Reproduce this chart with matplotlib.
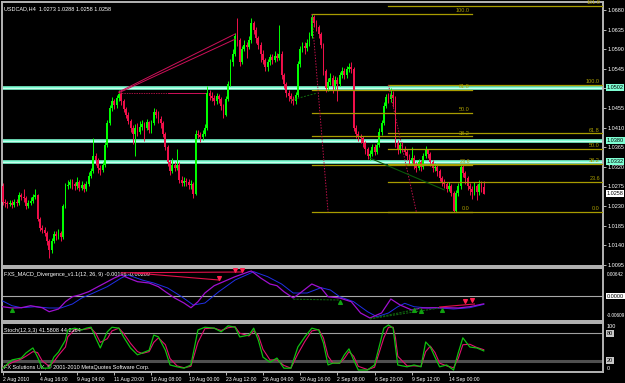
import matplotlib.pyplot as plt
import numpy as np
from matplotlib.transforms import blended_transform_factory

plt.rcParams['font.family'] = ['Liberation Sans', 'DejaVu Sans']

# USDCAD H4 candles, bar 0 = 2 Aug 2010 00:00
first_open = 1.0275
closes = [
    1.0240, 1.0236, 1.0235, 1.0238, 1.0233, 1.0240, 1.0236, 1.0255, 1.0250, 1.0248,
    1.0230, 1.0238, 1.0242, 1.0250, 1.0255, 1.0200, 1.0180, 1.0175, 1.0168, 1.0150,
    1.0130, 1.0150, 1.0165, 1.0160, 1.0167, 1.0158, 1.0230, 1.0275, 1.0278, 1.0285,
    1.0280, 1.0275, 1.0285, 1.0272, 1.0278, 1.0268, 1.0280, 1.0300, 1.0310, 1.0345,
    1.0335, 1.0318, 1.0312, 1.0325, 1.0370, 1.0420, 1.0455, 1.0470, 1.0462, 1.0478,
    1.0488, 1.0470, 1.0452, 1.0440, 1.0425, 1.0410, 1.0395, 1.0408, 1.0400, 1.0412,
    1.0418, 1.0410, 1.0422, 1.0405, 1.0420, 1.0445, 1.0440, 1.0430, 1.0420, 1.0395,
    1.0365, 1.0330, 1.0310, 1.0325, 1.0318, 1.0325, 1.0290, 1.0282, 1.0288, 1.0285,
    1.0278, 1.0280, 1.0258, 1.0395, 1.0392, 1.0388, 1.0395, 1.0410, 1.0490, 1.0482,
    1.0478, 1.0470, 1.0482, 1.0475, 1.0460, 1.0440, 1.0475, 1.0510, 1.0560, 1.0580,
    1.0620, 1.0610, 1.0560, 1.0590, 1.0600, 1.0595, 1.0610, 1.0650, 1.0635, 1.0615,
    1.0600, 1.0580, 1.0565, 1.0550, 1.0560, 1.0572, 1.0565, 1.0575, 1.0570, 1.0580,
    1.0530, 1.0510, 1.0490, 1.0482, 1.0475, 1.0470, 1.0485, 1.0555, 1.0590, 1.0598,
    1.0592, 1.0605, 1.0620, 1.0665, 1.0650, 1.0640, 1.0625, 1.0600, 1.0540, 1.0500,
    1.0515, 1.0525, 1.0505, 1.0520, 1.0510, 1.0530, 1.0540, 1.0530, 1.0545, 1.0550,
    1.0545, 1.0410, 1.0395, 1.0390, 1.0385, 1.0375, 1.0360, 1.0345, 1.0350, 1.0365,
    1.0355, 1.0370, 1.0400, 1.0420, 1.0460, 1.0480, 1.0475, 1.0485, 1.0478, 1.0375,
    1.0360, 1.0370, 1.0362, 1.0355, 1.0345, 1.0335, 1.0340, 1.0325, 1.0318, 1.0330,
    1.0320, 1.0345, 1.0358, 1.0350, 1.0330, 1.0318, 1.0320, 1.0310, 1.0295, 1.0285,
    1.0280, 1.0270, 1.0275, 1.0260, 1.0218, 1.0260, 1.0275, 1.0320, 1.0305, 1.0295,
    1.0275, 1.0268, 1.0262, 1.0275, 1.0262, 1.0280, 1.0273, 1.0258,
]
highs = [
    1.0282, 1.0246, 1.0242, 1.0244, 1.0243, 1.0247, 1.0246, 1.0262, 1.0260, 1.0270,
    1.0252, 1.0244, 1.0250, 1.0258, 1.0268, 1.0258, 1.0205, 1.0186, 1.0182, 1.0172,
    1.0155, 1.0156, 1.0172, 1.0172, 1.0178, 1.0172, 1.0235, 1.0282, 1.0290, 1.0293,
    1.0292, 1.0286, 1.0296, 1.0290, 1.0288, 1.0283, 1.0287, 1.0308, 1.0318, 1.0386,
    1.0352, 1.0340, 1.0325, 1.0332, 1.0378, 1.0428, 1.0462, 1.0480, 1.0476, 1.0486,
    1.0497, 1.0492, 1.0475, 1.0458, 1.0445, 1.0430, 1.0415, 1.0418, 1.0420, 1.0425,
    1.0428, 1.0424, 1.0430, 1.0426, 1.0428, 1.0455, 1.0452, 1.0448, 1.0436, 1.0425,
    1.0400, 1.0370, 1.0336, 1.0340, 1.0332, 1.0360, 1.0330, 1.0298, 1.0296, 1.0295,
    1.0292, 1.0290, 1.0286, 1.0405, 1.0404, 1.0400, 1.0405, 1.0418, 1.0505, 1.0496,
    1.0492, 1.0486, 1.0490, 1.0488, 1.0480, 1.0465, 1.0482, 1.0518, 1.0568, 1.0590,
    1.0628, 1.0662, 1.0615, 1.0598, 1.0610, 1.0606, 1.0620, 1.0662, 1.0655, 1.0640,
    1.0620, 1.0606, 1.0588, 1.0570, 1.0568, 1.0580, 1.0578, 1.0585, 1.0582, 1.0646,
    1.0585, 1.0536, 1.0515, 1.0496, 1.0490, 1.0482, 1.0492, 1.0562, 1.0598, 1.0606,
    1.0606, 1.0614, 1.0630, 1.0671, 1.0668, 1.0656, 1.0645, 1.0630, 1.0605, 1.0545,
    1.0524, 1.0535, 1.0530, 1.0528, 1.0526, 1.0538, 1.0548, 1.0546, 1.0552, 1.0558,
    1.0560, 1.0550, 1.0415, 1.0402, 1.0396, 1.0390, 1.0380, 1.0366, 1.0358, 1.0372,
    1.0372, 1.0378, 1.0408, 1.0428, 1.0468, 1.0488, 1.0490, 1.0501, 1.0495, 1.0482,
    1.0382, 1.0378, 1.0376, 1.0368, 1.0360, 1.0350, 1.0366, 1.0346, 1.0332, 1.0338,
    1.0336, 1.0352, 1.0368, 1.0362, 1.0354, 1.0336, 1.0328, 1.0326, 1.0316, 1.0300,
    1.0292, 1.0286, 1.0284, 1.0280, 1.0264, 1.0266, 1.0282, 1.0326, 1.0324, 1.0310,
    1.0300, 1.0282, 1.0276, 1.0284, 1.0280, 1.0290, 1.0288, 1.0288,
]
lows = [
    1.0232, 1.0228, 1.0226, 1.0229, 1.0226, 1.0228, 1.0230, 1.0232, 1.0244, 1.0240,
    1.0224, 1.0225, 1.0233, 1.0238, 1.0245, 1.0195, 1.0172, 1.0168, 1.0160, 1.0140,
    1.0111, 1.0122, 1.0145, 1.0152, 1.0155, 1.0150, 1.0155, 1.0226, 1.0268, 1.0272,
    1.0270, 1.0266, 1.0270, 1.0265, 1.0266, 1.0262, 1.0264, 1.0276, 1.0295, 1.0306,
    1.0325, 1.0305, 1.0302, 1.0308, 1.0320, 1.0365, 1.0415, 1.0448, 1.0452, 1.0455,
    1.0470, 1.0462, 1.0445, 1.0432, 1.0418, 1.0400, 1.0372, 1.0345, 1.0390, 1.0395,
    1.0405, 1.0380, 1.0404, 1.0398, 1.0398, 1.0415, 1.0432, 1.0420, 1.0410, 1.0388,
    1.0358, 1.0322, 1.0302, 1.0305, 1.0310, 1.0312, 1.0283, 1.0275, 1.0276, 1.0277,
    1.0270, 1.0268, 1.0248, 1.0255, 1.0385, 1.0378, 1.0382, 1.0390, 1.0405, 1.0474,
    1.0470, 1.0462, 1.0465, 1.0466, 1.0450, 1.0432, 1.0436, 1.0470, 1.0505, 1.0552,
    1.0575, 1.0598, 1.0552, 1.0555, 1.0585, 1.0570, 1.0590, 1.0605, 1.0625, 1.0605,
    1.0590, 1.0560, 1.0556, 1.0540, 1.0540, 1.0553, 1.0555, 1.0560, 1.0562, 1.0565,
    1.0522, 1.0502, 1.0480, 1.0472, 1.0466, 1.0462, 1.0465, 1.0480, 1.0550, 1.0584,
    1.0580, 1.0585, 1.0598, 1.0615, 1.0640, 1.0632, 1.0615, 1.0592, 1.0530, 1.0492,
    1.0494, 1.0508, 1.0490, 1.0498, 1.0470, 1.0505, 1.0524, 1.0522, 1.0525, 1.0538,
    1.0535, 1.0402, 1.0386, 1.0380, 1.0374, 1.0366, 1.0350, 1.0338, 1.0336, 1.0344,
    1.0346, 1.0350, 1.0365, 1.0394, 1.0415, 1.0454, 1.0466, 1.0468, 1.0458, 1.0366,
    1.0350, 1.0352, 1.0354, 1.0346, 1.0336, 1.0325, 1.0328, 1.0316, 1.0308, 1.0312,
    1.0310, 1.0315, 1.0340, 1.0340, 1.0322, 1.0308, 1.0310, 1.0300, 1.0288, 1.0276,
    1.0272, 1.0262, 1.0264, 1.0252, 1.0216, 1.0216, 1.0254, 1.0270, 1.0296, 1.0280,
    1.0266, 1.0256, 1.0246, 1.0256, 1.0244, 1.0256, 1.0262, 1.0258,
]

price_ticks = [1.0680, 1.0635, 1.0590, 1.0545, 1.0502, 1.0455, 1.0410, 1.0365,
               1.0320, 1.0275, 1.0230, 1.0185, 1.0140, 1.0095]
sr_levels = [1.0502, 1.0380, 1.0332]
last_price = 1.0258

# fibonacci objects: (bar start, bar end, price 100, price 0)
fib_ratios = [0.0, 23.6, 38.2, 50.0, 61.8, 100.0]
fib_a = (133, 202, 1.0671, 1.0216)
fib_a_diag = ([133, 140], [1.0671, 1.0216])
fib_b_ratios = [0.0, 23.6, 38.2, 50.0, 61.8, 100.0, 161.8]
fib_b = (166, 258, 1.0508, 1.0216)
fib_b_diag = ([166, 178], [1.0508, 1.0216])

# divergence trend lines on price
red_tl_x = [[50, 100], [50, 100]]
red_tl_y = [[1.0492, 1.0625], [1.0490, 1.0613]]
red_flat_x = [50, 71, 87]
red_flat_y = 1.0489
green_tl_x = [[124, 135], [158, 190]]
green_tl_y = [[1.0473, 1.0489], [1.0340, 1.0267]]

# MACD (12,26,9)
macd_x = [0, 4, 8, 12, 17, 20, 24, 27, 30, 33, 37, 41, 44, 48, 51, 54, 58, 63, 67, 70,
          74, 78, 81, 84, 87, 91, 95, 100, 106, 107, 111, 115, 118, 121, 125, 128, 133,
          137, 140, 145, 150, 154, 158, 163, 167, 171, 176, 180, 185, 191, 196, 201, 207]
macd_main = [-0.00268, -0.0030, -0.00293, -0.00243, -0.00293, -0.00393, -0.00325, -0.00143,
             -0.00018, 0.00025, 0.00108, 0.00233, 0.00325, 0.0045, 0.00525, 0.0045, 0.00358,
             0.00325, 0.00233, 0.00108, -0.0005, -0.00175, -0.00293, -0.00143, 0.00075,
             0.00258, 0.00358, 0.00483, 0.00608, 0.00625, 0.0045, 0.0030, 0.00258, 0.00108,
             -0.0005, 0.00075, 0.0030, 0.0020, -0.00018, -0.0005, -0.00143, -0.00425, -0.0055,
             -0.00425, -0.00075, -0.00225, -0.0035, -0.0030, -0.00293, -0.00293, -0.0030,
             -0.00268, -0.00196]
sig_x = [0, 4, 8, 14, 20, 25, 30, 34, 39, 45, 51, 54, 60, 65, 71, 77, 82, 87, 93, 100,
         108, 114, 120, 125, 131, 137, 141, 145, 151, 157, 161, 166, 170, 173, 177, 183,
         188, 194, 201, 207]
macd_signal = [-0.00125, -0.00243, -0.00293, -0.00268, -0.0030, -0.0030, -0.0020, -0.0005,
               0.00075, 0.00233, 0.0045, 0.00525, 0.0040, 0.00325, 0.0020, -0.00018, -0.00225,
               -0.00175, 0.00108, 0.0040, 0.00608, 0.00483, 0.0030, 0.00075, 0.00075, 0.00208,
               0.0015, -0.00018, -0.00143, -0.00393, -0.00518, -0.00425, -0.00268, -0.00183,
               -0.00268, -0.0030, -0.0030, -0.00325, -0.00293, -0.00209]
bear_div_x = [[51, 103], [56, 93], [188, 203]]
bear_div_y = [[0.0058, 0.0060], [0.0058, 0.0040], [-0.00275, -0.0020]]
bear_arrow_x = [93, 100, 103, 199, 202]
bear_arrow_y = [0.0044, 0.0064, 0.0065, -0.0012, -0.0011]
bull_div_x = [[125, 145], [158, 188], [158, 180]]
bull_div_y = [[-0.0008, -0.0010], [-0.0057, -0.0030], [-0.0057, -0.0031]]
bull_arrow_x = [4, 145, 177, 180, 189]
bull_arrow_y = [-0.0036, -0.0014, -0.0036, -0.0038, -0.0036]

# Stochastic (12,3,3)
st_x = [0, 4, 8, 10, 13, 15, 17, 20, 22, 24, 27, 28, 31, 34, 36, 38, 40, 42, 45, 47,
        50, 52, 55, 58, 60, 63, 65, 67, 70, 72, 75, 78, 81, 84, 87, 91, 94, 97, 100, 102,
        106, 108, 110, 112, 115, 118, 121, 124, 127, 130, 133, 136, 138, 140, 142, 145,
        147, 149, 151, 153, 157, 160, 164, 166, 168, 169, 170, 174, 177, 180, 182, 184,
        186, 188, 191, 194, 196, 198, 201, 204, 207]
st_main = [4, 22, 26, 37, 48, 28, 4, 4, 28, 39, 65, 87, 91, 87, 91, 93, 70, 48, 83, 93,
           91, 72, 48, 33, 37, 43, 76, 72, 43, 11, 7, 4, 11, 87, 93, 91, 83, 96, 93, 72,
           76, 91, 65, 28, 17, 26, 4, 4, 50, 72, 91, 87, 59, 11, 15, 15,
           33, 46, 22, 0, 0, 11, 91, 98, 91, 50, 11, 7, 11, 7, 61, 50,
           28, 7, 11, 0, 37, 70, 50, 48, 41.58]
st_signal = [6, 16, 24, 30, 40, 38, 20, 8, 18, 32, 50, 72, 88, 88, 89, 91, 80, 60, 68, 85,
             91, 80, 58, 40, 36, 40, 60, 70, 55, 25, 9, 5, 8, 60, 90, 91, 86, 92, 94, 80,
             74, 85, 75, 45, 22, 22, 10, 4, 35, 62, 85, 88, 70, 30, 16, 15,
             25, 40, 30, 8, 1, 6, 70, 93, 93, 70, 30, 9, 9, 8, 40, 52,
             38, 15, 9, 5, 25, 55, 56, 49, 44.24]

time_ticks = [0, 16, 32, 48, 64, 80, 96, 112, 128, 144, 160, 176, 192]
time_labels = ["2 Aug 2010", "4 Aug 16:00", "9 Aug 04:00", "11 Aug 20:00", "16 Aug 08:00",
               "19 Aug 00:00", "23 Aug 12:00", "26 Aug 04:00", "30 Aug 16:00",
               "2 Sep 08:00", "6 Sep 20:00", "9 Sep 12:00", "14 Sep 00:00"]

W, H = 625, 383
fig = plt.figure(figsize=(6.25, 3.83), dpi=100, facecolor='black')
FS = 4.0
BULL = '#00ff00'
BEAR = '#f0104a'
FIB = '#a89c00'
SR = '#7fffd4'


def panel(x0, y0, x1, y1):
    ax = fig.add_axes([x0 / W, 1 - y1 / H, (x1 - x0) / W, (y1 - y0) / H])
    ax.set_facecolor('black')
    for s in ax.spines.values():
        s.set_color('#b4b4b4')
        s.set_linewidth(1.4)
    ax.set_xlim(-0.3, 258.3)
    ax.yaxis.tick_right()
    ax.tick_params(axis='y', colors='white', labelsize=FS, length=2, width=0.5, pad=1)
    ax.tick_params(axis='x', bottom=False, labelbottom=False)
    return ax


def box(ax, y, txt, fc, tc='black'):
    tr = blended_transform_factory(ax.transAxes, ax.transData)
    ax.text(1.006, y, txt, transform=tr, fontsize=FS, color=tc, va='center', ha='left',
            bbox=dict(boxstyle='square,pad=0.15', fc=fc, ec='none'), zorder=10, clip_on=False)


def side(ax, yfrac, txt, fs=FS):
    ax.text(1.006, yfrac, txt, transform=ax.transAxes, fontsize=fs, color='white',
            va='center', ha='left', clip_on=False)


# ---------- price panel ----------
ax = panel(2, 2, 603, 266)
ax.set_ylim(1.00922, 1.06984)
c = np.array(closes)
o = np.r_[first_open, c[:-1]]
x = np.arange(len(c))
up = c >= o
col = np.where(up, BULL, BEAR)
ax.vlines(x, lows, highs, colors=col, lw=0.7, zorder=3)
body = np.where(np.abs(c - o) < 0.00008, 0.00008, c - o)
ax.bar(x, body, bottom=o, width=0.78, color=col, lw=0, zorder=4)

for lv in sr_levels:
    ax.axhline(lv, color=SR, lw=2.6, zorder=2)
    ax.axhline(lv, color='#d8fff4', lw=0.6, zorder=2)

for (x0, x1, p100, p0), ratios, diag in [(fib_a, fib_ratios, fib_a_diag),
                                          (fib_b, fib_b_ratios, fib_b_diag)]:
    for r in ratios:
        lv = p0 + (p100 - p0) * r / 100
        ax.plot([x0, x1], [lv, lv], color=FIB, lw=0.9, zorder=5)
        ax.text(x1 - 1, lv + 0.0002, f"{r:.1f}", color=FIB, fontsize=FS,
                ha='right', va='bottom', zorder=6)
    ax.plot(diag[0], diag[1], color='#c0104a', lw=0.7, ls=(0, (1.5, 1.5)), zorder=5)

for xs, ys in zip(red_tl_x, red_tl_y):
    ax.plot(xs, ys, color='#d0105a', lw=0.7, zorder=5)
ax.plot(red_flat_x[:2], [red_flat_y] * 2, color='#a01040', lw=0.7, ls=(0, (1.5, 1)), zorder=5)
ax.plot(red_flat_x[1:], [red_flat_y] * 2, color='#d0105a', lw=0.7, zorder=5)
ax.plot(green_tl_x[0], green_tl_y[0], color='#107010', lw=0.7, ls=(0, (2, 1.5)), zorder=5)
ax.plot(green_tl_x[1], green_tl_y[1], color='#0a5a0a', lw=0.8, zorder=5)

ax.set_yticks(price_ticks)
ax.set_yticklabels([f"{p:.4f}" for p in price_ticks])
for lv in sr_levels:
    box(ax, lv, f"{lv:.4f}", SR)
box(ax, last_price, f"{last_price:.4f}", 'white')
ax.text(0.004, 0.985, "USDCAD,H4  1.0273 1.0288 1.0258 1.0258", transform=ax.transAxes,
        color='white', fontsize=FS, va='top', ha='left')

# ---------- MACD panel ----------
am = panel(2, 268, 603, 321)
am.set_ylim(-0.00625, 0.0070)
am.axhline(0, color='#a8a8a8', lw=0.8)
am.plot(sig_x, macd_signal, color='#2030e8', lw=0.7, zorder=3)
am.plot(macd_x, macd_main, color='#a010d0', lw=0.9, zorder=4)
for xs, ys in zip(bear_div_x, bear_div_y):
    am.plot(xs, ys, color='#e0104a', lw=0.8, zorder=5)
for xs, ys in zip(bull_div_x, bull_div_y):
    am.plot(xs, ys, color='#106010', lw=0.8, ls=(0, (2, 1)), zorder=5)
am.scatter(bear_arrow_x, bear_arrow_y, marker='v', s=7, color='#ff2050', zorder=6)
am.scatter(bull_arrow_x, bull_arrow_y, marker='^', s=7, color='#10a010', zorder=6)
am.set_yticks([])
side(am, 0.88, "0.00642", 3.4)
side(am, 0.10, "-0.00609", 3.4)
box(am, 0, "0.0000", 'white')
am.text(0.004, 0.93, "FXS_MACD_Divergence_v1.1(12, 26, 9) -0.00196 -0.00209",
        transform=am.transAxes, color='white', fontsize=FS, va='top', ha='left')

# ---------- Stochastic panel ----------
ast = panel(2, 323, 603, 372)
ast.set_ylim(-4.3, 102.2)
ast.axhline(80, color='#a0a0a0', lw=0.8)
ast.axhline(20, color='#505050', lw=2.2)
ast.plot(st_x, st_signal, color='#e01070', lw=0.8, zorder=3)
ast.plot(st_x, st_main, color='#10c010', lw=0.9, zorder=4)
ast.set_yticks([])
side(ast, 0.93, "100")
side(ast, 0.07, "0")
box(ast, 80, "80", '#c8c8c8')
box(ast, 20, "20", '#c8c8c8')
ast.text(0.004, 0.90, "Stoch(12,3,3) 41.5808 44.2364", transform=ast.transAxes,
         color='white', fontsize=FS, va='top', ha='left')
ast.text(0.004, 0.04, "FX Solutions UK, \u00a9 2001-2010 MetaQuotes Software Corp.",
         transform=ast.transAxes, color='white', fontsize=FS, va='bottom', ha='left')
ast.set_xticks(time_ticks)
ast.set_xticklabels(time_labels, ha='left')
ast.tick_params(axis='x', bottom=True, labelbottom=True, colors='white', labelsize=3.7,
                length=2.5, width=0.5, pad=1)

fig.savefig('out.png', dpi=100, facecolor='black')
